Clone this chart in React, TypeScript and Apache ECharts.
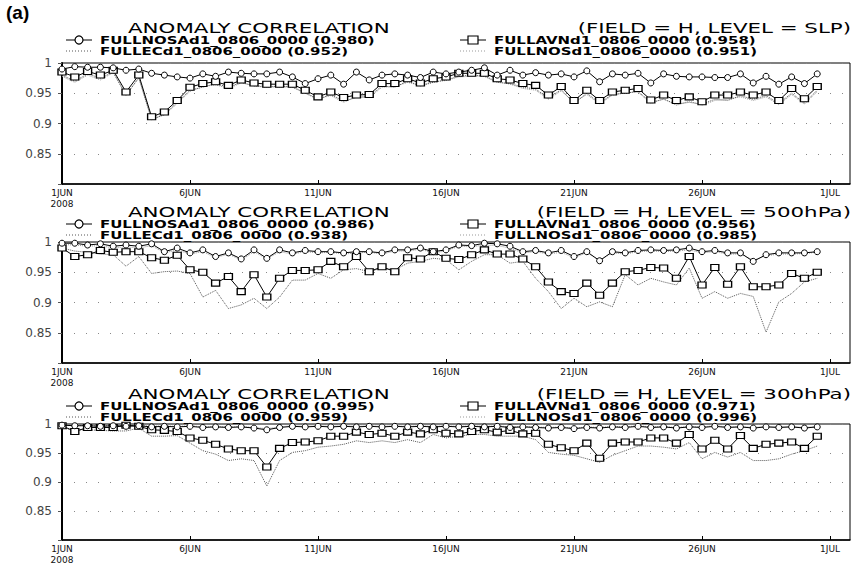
import React, { useEffect, useRef } from 'react';
import * as echarts from 'echarts';

// ---------- data ----------
const dateLabels = ['1JUN\n2008', '6JUN', '11JUN', '16JUN', '21JUN', '26JUN', '1JUL'];
const levels = ['SLP', '500hPa', '300hPa'];
const modelNames = ['FULLNOSAd1_0806_0000', 'FULLAVNd1_0806_0000', 'FULLECd1_0806_0000', 'FULLNOSd1_0806_0000'];
// mean scores printed in the legend, per panel: [NOSA, AVN, EC, NOS]
const meanSlp = ['0.980', '0.958', '0.952', '0.951'];
const mean500 = ['0.986', '0.956', '0.938', '0.985'];
const mean300 = ['0.995', '0.971', '0.959', '0.996'];
// forecast verification times: every 12 h from 1 JUN 00Z (days since 1 JUN)
const verifDays = Array.from({ length: 60 }, (_, i) => i * 0.5);

const slpNosa = [0.990, 0.994, 0.993, 0.993, 0.992, 0.988, 0.990, 0.983, 0.980, 0.977,
  0.975, 0.982, 0.978, 0.985, 0.983, 0.982, 0.982, 0.985, 0.977, 0.966,
  0.974, 0.980, 0.965, 0.985, 0.972, 0.980, 0.982, 0.980, 0.976, 0.985,
  0.982, 0.985, 0.988, 0.992, 0.980, 0.988, 0.980, 0.984, 0.980, 0.982,
  0.977, 0.987, 0.969, 0.982, 0.980, 0.983, 0.967, 0.982, 0.978, 0.977,
  0.977, 0.976, 0.976, 0.982, 0.967, 0.978, 0.965, 0.977, 0.966, 0.982];
const slpAvn = [0.985, 0.977, 0.986, 0.980, 0.988, 0.952, 0.980, 0.911, 0.919, 0.938,
  0.960, 0.966, 0.969, 0.963, 0.972, 0.967, 0.965, 0.965, 0.965, 0.955,
  0.944, 0.952, 0.943, 0.947, 0.948, 0.966, 0.966, 0.974, 0.967, 0.974,
  0.977, 0.983, 0.983, 0.983, 0.974, 0.972, 0.966, 0.963, 0.947, 0.961,
  0.938, 0.955, 0.938, 0.952, 0.955, 0.958, 0.939, 0.947, 0.938, 0.944,
  0.936, 0.947, 0.947, 0.952, 0.947, 0.952, 0.938, 0.958, 0.941, 0.961];
const slpEc = [0.980, 0.970, 0.982, 0.975, 0.985, 0.946, 0.976, 0.906, 0.915, 0.935,
  0.955, 0.960, 0.966, 0.960, 0.968, 0.962, 0.960, 0.962, 0.960, 0.950,
  0.940, 0.948, 0.937, 0.943, 0.945, 0.962, 0.960, 0.970, 0.962, 0.968,
  0.972, 0.978, 0.980, 0.978, 0.968, 0.966, 0.960, 0.957, 0.942, 0.956,
  0.933, 0.950, 0.934, 0.948, 0.950, 0.953, 0.935, 0.940, 0.932, 0.935,
  0.932, 0.940, 0.938, 0.946, 0.940, 0.946, 0.933, 0.950, 0.934, 0.955];
const slpNos = [0.978, 0.968, 0.980, 0.972, 0.984, 0.948, 0.975, 0.908, 0.914, 0.933,
  0.953, 0.961, 0.964, 0.958, 0.967, 0.963, 0.961, 0.960, 0.961, 0.951,
  0.941, 0.946, 0.935, 0.944, 0.943, 0.960, 0.961, 0.968, 0.963, 0.969,
  0.971, 0.977, 0.978, 0.979, 0.969, 0.965, 0.958, 0.955, 0.940, 0.954,
  0.935, 0.948, 0.932, 0.947, 0.951, 0.952, 0.933, 0.941, 0.930, 0.937,
  0.930, 0.938, 0.940, 0.944, 0.938, 0.944, 0.931, 0.948, 0.932, 0.953];

const h500Nosa = [0.998, 0.998, 0.995, 0.997, 0.993, 0.995, 0.993, 0.997, 0.984, 0.990,
  0.982, 0.987, 0.976, 0.982, 0.972, 0.987, 0.973, 0.987, 0.982, 0.986,
  0.984, 0.984, 0.982, 0.984, 0.984, 0.982, 0.987, 0.987, 0.990, 0.984,
  0.987, 0.995, 0.994, 0.998, 0.997, 0.993, 0.984, 0.986, 0.982, 0.986,
  0.976, 0.984, 0.969, 0.984, 0.982, 0.986, 0.987, 0.986, 0.987, 0.990,
  0.984, 0.986, 0.982, 0.982, 0.968, 0.979, 0.982, 0.982, 0.982, 0.984];
const h500Avn = [0.990, 0.976, 0.979, 0.986, 0.983, 0.984, 0.984, 0.974, 0.970, 0.978,
  0.954, 0.950, 0.932, 0.943, 0.918, 0.946, 0.909, 0.940, 0.953, 0.953,
  0.954, 0.968, 0.959, 0.976, 0.951, 0.959, 0.951, 0.974, 0.972, 0.984,
  0.973, 0.971, 0.979, 0.987, 0.980, 0.980, 0.972, 0.959, 0.934, 0.918,
  0.915, 0.932, 0.912, 0.932, 0.951, 0.953, 0.958, 0.957, 0.940, 0.976,
  0.929, 0.958, 0.930, 0.959, 0.926, 0.926, 0.929, 0.948, 0.940, 0.950];
const h500Ec = [0.990, 0.985, 0.983, 0.980, 0.979, 0.960, 0.976, 0.948, 0.951, 0.952,
  0.948, 0.909, 0.920, 0.890, 0.896, 0.907, 0.890, 0.909, 0.937, 0.937,
  0.948, 0.940, 0.954, 0.956, 0.951, 0.957, 0.954, 0.965, 0.968, 0.973,
  0.971, 0.954, 0.968, 0.979, 0.979, 0.965, 0.968, 0.940, 0.918, 0.890,
  0.907, 0.893, 0.901, 0.893, 0.946, 0.929, 0.940, 0.934, 0.929, 0.957,
  0.907, 0.918, 0.907, 0.915, 0.910, 0.851, 0.901, 0.915, 0.934, 0.940];
const h500Nos = [0.996, 0.995, 0.993, 0.994, 0.990, 0.992, 0.990, 0.994, 0.982, 0.987,
  0.980, 0.984, 0.974, 0.980, 0.970, 0.984, 0.972, 0.984, 0.980, 0.984,
  0.982, 0.983, 0.980, 0.982, 0.983, 0.980, 0.985, 0.985, 0.988, 0.982,
  0.985, 0.993, 0.992, 0.995, 0.994, 0.990, 0.982, 0.984, 0.980, 0.983,
  0.974, 0.982, 0.970, 0.982, 0.980, 0.984, 0.985, 0.984, 0.985, 0.987,
  0.982, 0.984, 0.980, 0.980, 0.970, 0.977, 0.980, 0.980, 0.981, 0.983];

const h300Nosa = [0.998, 0.997, 0.997, 0.996, 0.997, 0.996, 0.997, 0.995, 0.996, 0.995,
  0.996, 0.994, 0.995, 0.994, 0.995, 0.993, 0.990, 0.994, 0.996, 0.995,
  0.996, 0.995, 0.996, 0.995, 0.996, 0.995, 0.996, 0.995, 0.996, 0.995,
  0.996, 0.995, 0.996, 0.995, 0.996, 0.994, 0.995, 0.994, 0.993, 0.994,
  0.992, 0.994, 0.993, 0.995, 0.994, 0.996, 0.994, 0.995, 0.993, 0.995,
  0.994, 0.996, 0.994, 0.995, 0.993, 0.995, 0.994, 0.995, 0.993, 0.995];
const h300Avn = [0.997, 0.987, 0.994, 0.994, 0.994, 0.998, 0.996, 0.990, 0.989, 0.987,
  0.976, 0.972, 0.965, 0.957, 0.954, 0.954, 0.926, 0.958, 0.968, 0.969,
  0.971, 0.979, 0.979, 0.986, 0.982, 0.984, 0.979, 0.986, 0.983, 0.990,
  0.984, 0.983, 0.987, 0.990, 0.986, 0.989, 0.983, 0.984, 0.965, 0.959,
  0.954, 0.967, 0.941, 0.967, 0.969, 0.969, 0.976, 0.976, 0.967, 0.982,
  0.957, 0.972, 0.957, 0.980, 0.958, 0.965, 0.967, 0.969, 0.958, 0.979];
const h300Ec = [0.993, 0.990, 0.990, 0.989, 0.988, 0.988, 0.993, 0.979, 0.979, 0.980,
  0.967, 0.954, 0.948, 0.937, 0.940, 0.937, 0.893, 0.937, 0.951, 0.954,
  0.960, 0.962, 0.965, 0.971, 0.968, 0.971, 0.968, 0.973, 0.968, 0.982,
  0.976, 0.979, 0.982, 0.982, 0.979, 0.979, 0.979, 0.973, 0.951, 0.948,
  0.946, 0.940, 0.934, 0.946, 0.954, 0.962, 0.962, 0.960, 0.957, 0.968,
  0.940, 0.951, 0.943, 0.951, 0.937, 0.937, 0.940, 0.948, 0.954, 0.962];
const h300Nos = [0.998, 0.998, 0.997, 0.997, 0.998, 0.997, 0.998, 0.996, 0.997, 0.996,
  0.997, 0.995, 0.996, 0.995, 0.996, 0.994, 0.992, 0.995, 0.997, 0.996,
  0.997, 0.996, 0.997, 0.996, 0.997, 0.996, 0.997, 0.996, 0.997, 0.996,
  0.997, 0.996, 0.997, 0.996, 0.997, 0.995, 0.996, 0.995, 0.994, 0.995,
  0.993, 0.995, 0.994, 0.996, 0.995, 0.997, 0.995, 0.996, 0.994, 0.996,
  0.995, 0.997, 0.995, 0.996, 0.994, 0.996, 0.995, 0.996, 0.994, 0.996];

// ---------- layout ----------
const PANELS = [
  { top: 63, level: levels[0], means: meanSlp, series: [slpNosa, slpAvn, slpEc, slpNos], titleY: 28, row1Y: 40, row2Y: 51 },
  { top: 242, level: levels[1], means: mean500, series: [h500Nosa, h500Avn, h500Ec, h500Nos], titleY: 212, row1Y: 224, row2Y: 235 },
  { top: 424, level: levels[2], means: mean300, series: [h300Nosa, h300Avn, h300Ec, h300Nos], titleY: 394, row1Y: 406, row2Y: 417 },
];
const GRID_LEFT = 62;
const GRID_W = 788;
const GRID_H = 121;
const X_MAX = 30.78;

const TITLE_FONT = '14px "DejaVu Sans"';
const LEGEND_FONT = 'bold 10px "DejaVu Sans"';

function measure(text: string, font: string): number {
  const ctx = document.createElement('canvas').getContext('2d');
  if (!ctx) return text.length * 7;
  ctx.font = font;
  return ctx.measureText(text).width;
}

export default function App() {
  const ref = useRef<HTMLDivElement>(null);

  useEffect(() => {
    if (!ref.current) return;
    const chart = echarts.init(ref.current, undefined, { renderer: 'svg' });

    const titleScale = 262 / measure('ANOMALY CORRELATION', TITLE_FONT);
    const legendScale = 275 / measure(modelNames[0] + ' (0.980)', LEGEND_FONT);

    const grids: any[] = [];
    const xAxes: any[] = [];
    const yAxes: any[] = [];
    const series: any[] = [];
    const graphics: any[] = [];

    graphics.push({
      type: 'text', x: 6, y: 12,
      style: { text: '(a)', font: 'bold 19px "Liberation Sans"', fill: '#000', align: 'left', verticalAlign: 'middle', textAlign: 'left', textVerticalAlign: 'middle' },
    });

    PANELS.forEach((p, k) => {
      grids.push({ left: GRID_LEFT, top: p.top, width: GRID_W, height: GRID_H, show: true, borderColor: '#000', borderWidth: 1, containLabel: false });
      xAxes.push({
        gridIndex: k, type: 'value', min: 0, max: X_MAX, interval: 5,
        axisLine: { show: true, lineStyle: { color: '#000', width: 1.5 } },
        axisTick: { show: true, inside: true, length: 4, lineStyle: { color: '#000' } },
        axisLabel: {
          fontSize: 9, fontFamily: 'DejaVu Sans', color: '#111', margin: 3, lineHeight: 11,
          showMaxLabel: false,
          formatter: (v: number) => {
            const idx = Math.round(v / 5);
            return Math.abs(v - idx * 5) < 1e-6 && dateLabels[idx] ? dateLabels[idx] : '';
          },
        },
        splitLine: { show: false },
      });
      yAxes.push({
        gridIndex: k, type: 'value', min: 0.8, max: 1, interval: 0.05,
        axisLine: { show: true, lineStyle: { color: '#000', width: 2 } },
        axisTick: { show: true, length: 4, lineStyle: { color: '#555' } },
        axisLabel: {
          fontSize: 12, fontFamily: 'DejaVu Sans', color: '#444', margin: 10,
          formatter: (v: number) => (Math.abs(v - 0.8) < 1e-6 ? '' : String(parseFloat(v.toFixed(2)))),
        },
        splitLine: { show: true, lineStyle: { color: '#888', type: [1, 11], width: 1 } },
      });

      const [nosa, avn, ec, nos] = p.series;
      const pts = (arr: number[]) => verifDays.map((d, i) => [d, arr[i]]);
      series.push({
        name: modelNames[3], type: 'line', xAxisIndex: k, yAxisIndex: k, data: pts(nos),
        symbol: 'none', lineStyle: { color: '#9a9a9a', width: 1, type: 'dotted' }, z: 2,
      });
      series.push({
        name: modelNames[2], type: 'line', xAxisIndex: k, yAxisIndex: k, data: pts(ec),
        symbol: 'none', lineStyle: { color: '#555', width: 1, type: 'dotted' }, z: 3,
      });
      series.push({
        name: modelNames[1], type: 'line', xAxisIndex: k, yAxisIndex: k, data: pts(avn),
        symbol: 'rect', symbolSize: [8, 6], showSymbol: true,
        itemStyle: { color: '#fff', borderColor: '#000', borderWidth: 1.2 },
        lineStyle: { color: '#000', width: 1 }, z: 4,
      });
      series.push({
        name: modelNames[0], type: 'line', xAxisIndex: k, yAxisIndex: k, data: pts(nosa),
        symbol: 'circle', symbolSize: 6, showSymbol: true,
        itemStyle: { color: '#fff', borderColor: '#000', borderWidth: 1 },
        lineStyle: { color: '#000', width: 1 }, z: 5,
      });

      // titles
      graphics.push({
        type: 'text', x: 128, y: p.titleY, scaleX: titleScale,
        style: { text: 'ANOMALY CORRELATION', font: TITLE_FONT, fill: '#000', align: 'left', verticalAlign: 'middle', textAlign: 'left', textVerticalAlign: 'middle' },
      });
      graphics.push({
        type: 'text', x: 851, y: p.titleY, scaleX: titleScale,
        style: { text: `(FIELD = H, LEVEL = ${p.level})`, font: TITLE_FONT, fill: '#000', align: 'right', verticalAlign: 'middle', textAlign: 'right', textVerticalAlign: 'middle' },
      });

      // legend entries
      const entries = [
        { x: 66, y: p.row1Y, name: modelNames[0], mean: p.means[0], kind: 'circle' },
        { x: 460, y: p.row1Y, name: modelNames[1], mean: p.means[1], kind: 'rect' },
        { x: 66, y: p.row2Y, name: modelNames[2], mean: p.means[2], kind: 'ec' },
        { x: 460, y: p.row2Y, name: modelNames[3], mean: p.means[3], kind: 'nos' },
      ];
      entries.forEach((e) => {
        const solid = e.kind === 'circle' || e.kind === 'rect';
        graphics.push({
          type: 'line', shape: { x1: e.x, y1: e.y, x2: e.x + 26, y2: e.y },
          style: { stroke: e.kind === 'nos' ? '#999' : solid ? '#000' : '#555', lineWidth: 1, lineDash: solid ? null : [1, 2] },
        });
        if (e.kind === 'circle') {
          graphics.push({ type: 'circle', shape: { cx: e.x + 13, cy: e.y, r: 4 }, style: { fill: '#fff', stroke: '#000', lineWidth: 1.2 } });
        } else if (e.kind === 'rect') {
          graphics.push({ type: 'rect', shape: { x: e.x + 8, y: e.y - 4, width: 10, height: 8 }, style: { fill: '#fff', stroke: '#000', lineWidth: 1.2 } });
        }
        graphics.push({
          type: 'text', x: e.x + 34, y: e.y, scaleX: legendScale,
          style: { text: `${e.name} (${e.mean})`, font: LEGEND_FONT, fill: '#000', align: 'left', verticalAlign: 'middle', textAlign: 'left', textVerticalAlign: 'middle' },
        });
      });
    });

    chart.setOption({
      animation: false,
      backgroundColor: '#fff',
      grid: grids,
      xAxis: xAxes,
      yAxis: yAxes,
      series,
      graphic: graphics,
    });

    return () => chart.dispose();
  }, []);

  return (
    <div
      ref={ref}
      style={{ position: 'absolute', left: 0, top: 0, width: 853, height: 565, background: '#fff' }}
    />
  );
}
